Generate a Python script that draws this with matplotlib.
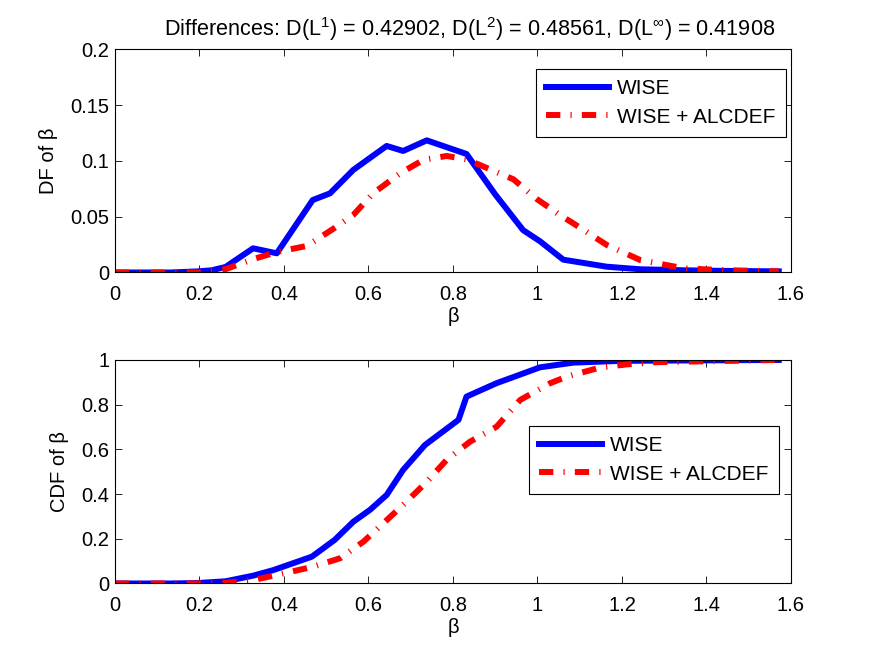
"""
DF and CDF of beta: WISE vs WISE + ALCDEF
"""

import matplotlib
matplotlib.use('Agg')
import matplotlib.pyplot as plt

plt.rcParams['font.family'] = ['Liberation Sans', 'DejaVu Sans']
plt.rcParams['mathtext.fontset'] = 'custom'
plt.rcParams['mathtext.rm'] = 'Liberation Sans'
plt.rcParams['mathtext.it'] = 'Liberation Sans'

# ---- data ----
# distribution function (top panel)
wise_df_x = [0, 0.065, 0.131, 0.196, 0.229, 0.262, 0.280, 0.327, 0.383, 0.468, 0.509, 0.564,
             0.643, 0.682, 0.738, 0.832, 0.900, 0.966, 1.006, 1.061, 1.164, 1.243, 1.345, 1.432, 1.571]
wise_df_y = [0, 0, 0, 0.001, 0.002, 0.005, 0.0097, 0.0217, 0.0172, 0.065, 0.071, 0.092,
             0.1135, 0.109, 0.1185, 0.1063, 0.070, 0.038, 0.028, 0.0115, 0.0052, 0.0029, 0.002, 0.0015, 0.001]

alc_df_x = [0, 0.065, 0.131, 0.196, 0.262, 0.327, 0.387, 0.454, 0.520, 0.564, 0.611, 0.675,
            0.730, 0.785, 0.832, 0.943, 0.998, 1.053, 1.085, 1.164, 1.243, 1.345, 1.432, 1.571]
alc_df_y = [0, 0, 0, 0, 0.003, 0.012, 0.0187, 0.0238, 0.040, 0.0516, 0.071, 0.089,
            0.101, 0.1045, 0.1015, 0.0836, 0.066, 0.0516, 0.044, 0.0247, 0.0112, 0.0038, 0.0022, 0.001]

# cumulative distribution (bottom panel)
wise_cdf_x = [0, 0.065, 0.131, 0.196, 0.262, 0.327, 0.375, 0.466, 0.520, 0.564, 0.604, 0.643,
              0.682, 0.734, 0.813, 0.832, 0.903, 1.006, 1.085, 1.200, 1.571]
wise_cdf_y = [0, 0, 0, 0.002, 0.01, 0.035, 0.06, 0.12, 0.195, 0.276, 0.33, 0.396,
              0.508, 0.62, 0.732, 0.836, 0.896, 0.967, 0.988, 0.996, 1.0]

alc_cdf_x = [0, 0.065, 0.131, 0.196, 0.262, 0.327, 0.387, 0.469, 0.533, 0.588, 0.635, 0.690,
             0.738, 0.785, 0.840, 0.903, 0.959, 1.030, 1.069, 1.148, 1.211, 1.280, 1.571]
alc_cdf_y = [0, 0, 0, 0, 0.003, 0.015, 0.04, 0.075, 0.113, 0.187, 0.269, 0.366,
             0.455, 0.553, 0.634, 0.701, 0.821, 0.896, 0.925, 0.966, 0.98, 0.99, 1.0]

x_ticks = [0, 0.2, 0.4, 0.6, 0.8, 1, 1.2, 1.4, 1.6]
x_ticklabels = ['0', '0.2', '0.4', '0.6', '0.8', '1', '1.2', '1.4', '1.6']
df_ticks = [0, 0.05, 0.1, 0.15, 0.2]
df_ticklabels = ['0', '0.05', '0.1', '0.15', '0.2']
cdf_ticks = [0, 0.2, 0.4, 0.6, 0.8, 1]
cdf_ticklabels = ['0', '0.2', '0.4', '0.6', '0.8', '1']

title = (r'Differences: D(L$^1$) = 0.42902, D(L$^2$) = 0.48561, '
         r'D(L$^{\infty}$) = 0.41908')

# ---- figure ----
fig = plt.figure(figsize=(8.75, 6.59), dpi=100)
ax1 = fig.add_axes([0.1314, 0.5865, 0.7726, 0.3384])
ax2 = fig.add_axes([0.1314, 0.1146, 0.7726, 0.3392])

red_dash = (0, (2.4, 1.7, 0.2, 1.7))
fs = 14.5
fs_leg = 15
lw = 4.3

for ax in (ax1, ax2):
    ax.set_xlim(0, 1.6)
    ax.set_xticks(x_ticks)
    ax.set_xticklabels(x_ticklabels)
    ax.tick_params(direction='in', top=True, right=True, length=5, width=0.6,
                   labelsize=fs)
    ax.tick_params(axis='x', pad=9)
    ax.tick_params(axis='y', pad=4)
    for sp in ax.spines.values():
        sp.set_linewidth(0.8)
    ax.set_xlabel('β', fontsize=fs, labelpad=2)

# top: DF
ax1.plot(wise_df_x, wise_df_y, color='#0000ff', lw=lw, label='WISE')
ax1.plot(alc_df_x, alc_df_y, color='#ff0000', lw=lw, linestyle=red_dash,
         dash_capstyle='butt', label='WISE + ALCDEF')
ax1.set_ylim(0, 0.2)
ax1.set_yticks(df_ticks)
ax1.set_yticklabels(df_ticklabels)
ax1.set_ylabel('DF of β', fontsize=fs, labelpad=9)
ax1.set_title(title, fontsize=15.6, x=0.525, pad=10)
leg1 = ax1.legend(loc='upper right', bbox_to_anchor=(0.9926, 0.9126), fontsize=fs_leg,
                  fancybox=False, edgecolor='black', framealpha=1,
                  handlelength=3.0, handletextpad=0.4, borderpad=0.5,
                  labelspacing=0.45, borderaxespad=0)
leg1.get_frame().set_linewidth(0.8)

# bottom: CDF
ax2.plot(wise_cdf_x, wise_cdf_y, color='#0000ff', lw=lw, label='WISE')
ax2.plot(alc_cdf_x, alc_cdf_y, color='#ff0000', lw=lw, linestyle=red_dash,
         dash_capstyle='butt', label='WISE + ALCDEF')
ax2.set_ylim(0, 1)
ax2.set_yticks(cdf_ticks)
ax2.set_yticklabels(cdf_ticklabels)
ax2.set_ylabel('CDF of β', fontsize=fs, labelpad=9)
leg2 = ax2.legend(loc='upper right', bbox_to_anchor=(0.982, 0.705), fontsize=fs_leg,
                  fancybox=False, edgecolor='black', framealpha=1,
                  handlelength=3.0, handletextpad=0.4, borderpad=0.5,
                  labelspacing=0.45, borderaxespad=0)
leg2.get_frame().set_linewidth(0.8)

fig.savefig('out.png', dpi=100)
